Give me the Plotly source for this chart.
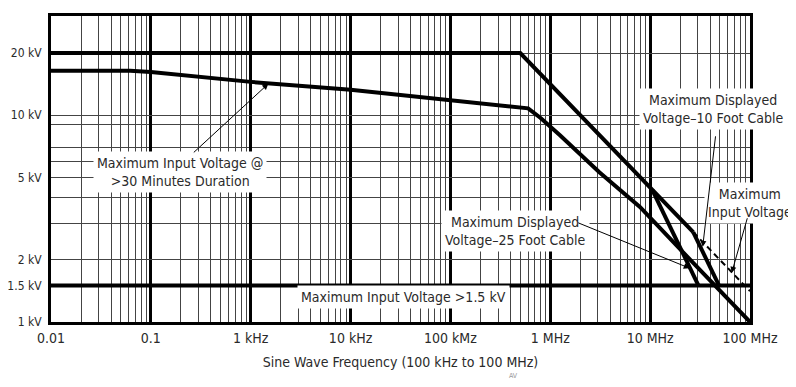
import math
import plotly.graph_objects as go

# ---------------- data (frequency in kHz, voltage in kV) ----------------
# Maximum Input Voltage (solid part, then dashed continuation)
max_in_f = [0.01, 500, 27000]
max_in_v = [20, 20, 2.72]
max_in_dash_f = [27000, 100000]
max_in_dash_v = [2.72, 1.41]

# Maximum Input Voltage @ >30 Minutes Duration
thirty_f = [0.01, 0.062, 0.1, 1, 10, 100, 400, 600, 800, 1250, 3100, 7900, 31000, 100000]
thirty_v = [16.4, 16.4, 16.2, 14.5, 13.3, 11.9, 11.1, 10.8, 9.7, 8.0, 5.3, 3.6, 1.8, 1.0]

# Maximum Displayed Voltage - 25 Foot Cable
cable25_f = [10500, 30500]
cable25_v = [4.36, 1.5]

# Maximum Displayed Voltage - 10 Foot Cable
cable10_f = [27000, 49000]
cable10_v = [2.72, 1.5]

# Maximum Input Voltage >1.5 kV
limit_f = [0.01, 100000]
limit_v = [1.5, 1.5]

# axis ticks
x_tickvals = [0.01, 0.1, 1, 10, 100, 1000, 10000, 100000]
x_ticktext = ["0.01", "0.1", "1 kHz", "10 kHz", "100 kMz", "1 MHz", "10 MHz", "100 MHz"]
y_tickvals = [1, 1.5, 2, 5, 10, 20]
y_ticktext = ["1 kV", "1.5 kV", "2 kV", "5 kV", "10 kV", "20 kV"]
y_minor = [3, 4, 6, 7, 9]
x_minor = [m * d for d in [0.01, 0.1, 1, 10, 100, 1000, 10000] for m in range(2, 10)]

FONT = "DejaVu Sans Condensed, Liberation Sans Narrow, Roboto, sans-serif"
FS = 14
TXT = "#2a2a2a"
LW = 4

fig = go.Figure()

def line(xs, ys, dash="solid"):
    fig.add_trace(go.Scatter(x=xs, y=ys, mode="lines",
                             line=dict(color="black", width=LW if dash == "solid" else 2, dash=dash),
                             hoverinfo="skip", showlegend=False))

line(thirty_f, thirty_v)
line(max_in_f, max_in_v)
line(max_in_dash_f, max_in_dash_v, dash="6px,4px")
line(cable25_f, cable25_v)
line(cable10_f, cable10_v)
line(limit_f, limit_v)

# page has an 8px body margin; size the figure so the plot lands where the reference has it
OFF = 8
W, H = 796 - OFF, 387 - OFF
PL, PT, PR, PBOT = 51, 16, 750, 322           # plot area in page pixels
L, T = PL - OFF, PT - OFF
R = W - (PR - OFF)
B = H - (PBOT - OFF)
PW, PH = PR - PL, PBOT - PT

def px(xp):
    return (xp - PL) / PW

def py(yp):
    return (PBOT - yp) / PH

annotations = []

# text labels (white boxes)
def label(xp, yp, text):
    annotations.append(dict(x=px(xp), y=py(yp), xref="paper", yref="paper",
                            text=text, showarrow=False, bgcolor="white",
                            borderpad=3, xanchor="center", yanchor="middle",
                            font=dict(family=FONT, size=FS, color=TXT)))

label(180, 172, "Maximum Input Voltage @<br>&gt;30 Minutes Duration")
label(713, 109, "Maximum Displayed<br>Voltage\u201310 Foot Cable")
label(750, 203, "Maximum<br>Input Voltage")
label(515, 231, "Maximum Displayed<br>Voltage\u201325 Foot Cable")
label(403, 297, "Maximum Input Voltage &gt;1.5 kV")

# arrows (tip in data coords, tail as pixel offsets)
def arrow(fx, vy, ax, ay):
    annotations.append(dict(x=math.log10(fx), y=math.log10(vy), xref="x", yref="y",
                            text="", showarrow=True, arrowhead=2, arrowsize=1.2,
                            arrowwidth=1, arrowcolor="black", ax=ax, ay=ay,
                            standoff=0, startstandoff=0))

arrow(1.5, 14.2, -76, 70)
arrow(33600, 2.31, 13, -112)
arrow(65600, 1.73, 16, -56)
arrow(24900, 1.82, -113, -46)

annotations.append(dict(x=px(520), y=py(382), xref="paper", yref="paper", text="AV",
                        showarrow=False, font=dict(family=FONT, size=7, color="#999")))

fig.update_layout(
    width=W, height=H,
    margin=dict(l=L, r=R, t=T, b=B, autoexpand=False),
    paper_bgcolor="white", plot_bgcolor="white",
    annotations=annotations,
    showlegend=False,
)

fig.update_xaxes(
    type="log", range=[-2, 5], automargin=False,
    tickvals=x_tickvals, ticktext=x_ticktext,
    tickfont=dict(family=FONT, size=FS, color=TXT),
    showgrid=True, gridcolor="black", gridwidth=2.5,
    minor=dict(tickvals=x_minor, showgrid=True, gridcolor="#444", gridwidth=1, ticks=""),
    showline=True, linecolor="black", linewidth=3, mirror=True,
    ticks="", ticklabelstandoff=1,
    title=dict(text="Sine Wave Frequency (100 kHz to 100 MHz)",
               font=dict(family=FONT, size=FS, color=TXT), standoff=13),
)
fig.update_yaxes(
    type="log", range=[0, 1.48], automargin=False,
    tickvals=y_tickvals, ticktext=y_ticktext,
    tickfont=dict(family=FONT, size=12, color=TXT),
    showgrid=True, gridcolor="#444", gridwidth=1,
    minor=dict(tickvals=y_minor, showgrid=True, gridcolor="#444", gridwidth=1, ticks=""),
    showline=True, linecolor="black", linewidth=3, mirror=True,
    ticks="", ticklabelstandoff=4,
)

fig.write_html("out.html")
